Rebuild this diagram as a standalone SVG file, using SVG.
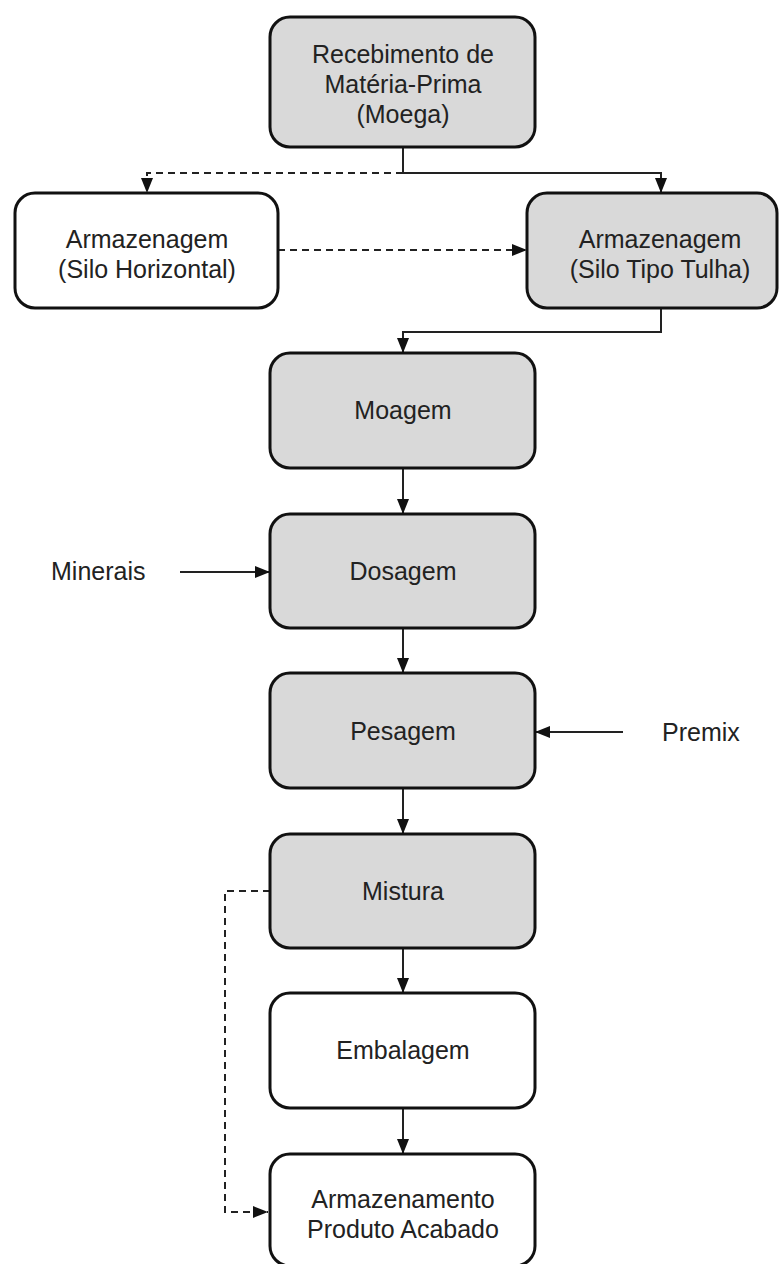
<svg xmlns="http://www.w3.org/2000/svg" width="779" height="1264" viewBox="0 0 779 1264">
<style>
.box{stroke:#111;stroke-width:3}
.g{fill:#d9d9d9}
.w{fill:#ffffff}
.t{font-family:"Liberation Sans",Arial,sans-serif;font-size:25px;fill:#222;text-anchor:middle}
.tl{font-family:"Liberation Sans",Arial,sans-serif;font-size:25px;fill:#222}
.c{fill:none;stroke:#222;stroke-width:2}
.d{stroke-dasharray:7 5}
</style>
<defs>
<marker id="ah" markerUnits="userSpaceOnUse" markerWidth="15" markerHeight="12" refX="15" refY="6" orient="auto">
<path d="M0,0 L15,6 L0,12 z" fill="#111"/>
</marker>
</defs>
<rect width="779" height="1264" fill="#ffffff"/>
<g id="connectors">
<path class="c" d="M403,147 V173 H661 V193" marker-end="url(#ah)"/>
<path class="c d" d="M403,173 H147 V193" marker-end="url(#ah)"/>
<path class="c d" d="M278,250 H527" marker-end="url(#ah)"/>
<path class="c" d="M661,308 V332 H403 V353" marker-end="url(#ah)"/>
<path class="c" d="M403,468 V514" marker-end="url(#ah)"/>
<path class="c" d="M403,628 V673" marker-end="url(#ah)"/>
<path class="c" d="M403,788 V834" marker-end="url(#ah)"/>
<path class="c" d="M403,948 V993" marker-end="url(#ah)"/>
<path class="c" d="M403,1108 V1154" marker-end="url(#ah)"/>
<path class="c" d="M180,572 H270" marker-end="url(#ah)"/>
<path class="c" d="M623,732 H535" marker-end="url(#ah)"/>
<path class="c d" d="M270,891 H225 V1212 H268" marker-end="url(#ah)"/>
</g>
<g id="recebimento">
<rect class="box g" x="270" y="17" width="265" height="130" rx="20"/>
<text class="t" x="403" y="63">Recebimento de</text>
<text class="t" x="403" y="93">Matéria-Prima</text>
<text class="t" x="403" y="123">(Moega)</text>
</g>
<g id="silo-horizontal">
<rect class="box w" x="15" y="193" width="263" height="115" rx="20"/>
<text class="t" x="147" y="248">Armazenagem</text>
<text class="t" x="147" y="278">(Silo Horizontal)</text>
</g>
<g id="silo-tulha">
<rect class="box g" x="527" y="193" width="250" height="115" rx="20"/>
<text class="t" x="660" y="248">Armazenagem</text>
<text class="t" x="660" y="278">(Silo Tipo Tulha)</text>
</g>
<g id="moagem">
<rect class="box g" x="270" y="353" width="265" height="115" rx="20"/>
<text class="t" x="403" y="419">Moagem</text>
</g>
<g id="dosagem">
<rect class="box g" x="270" y="514" width="265" height="114" rx="20"/>
<text class="t" x="403" y="580">Dosagem</text>
</g>
<g id="pesagem">
<rect class="box g" x="270" y="673" width="265" height="115" rx="20"/>
<text class="t" x="403" y="740">Pesagem</text>
</g>
<g id="mistura">
<rect class="box g" x="270" y="834" width="265" height="114" rx="20"/>
<text class="t" x="403" y="900">Mistura</text>
</g>
<g id="embalagem">
<rect class="box w" x="270" y="993" width="265" height="115" rx="20"/>
<text class="t" x="403" y="1059">Embalagem</text>
</g>
<g id="armazenamento">
<rect class="box w" x="270" y="1154" width="265" height="112" rx="20"/>
<text class="t" x="403" y="1208">Armazenamento</text>
<text class="t" x="403" y="1238">Produto Acabado</text>
</g>
<g id="minerais">
<text class="tl" x="51" y="580">Minerais</text>
</g>
<g id="premix">
<text class="tl" x="662" y="741">Premix</text>
</g>
</svg>
